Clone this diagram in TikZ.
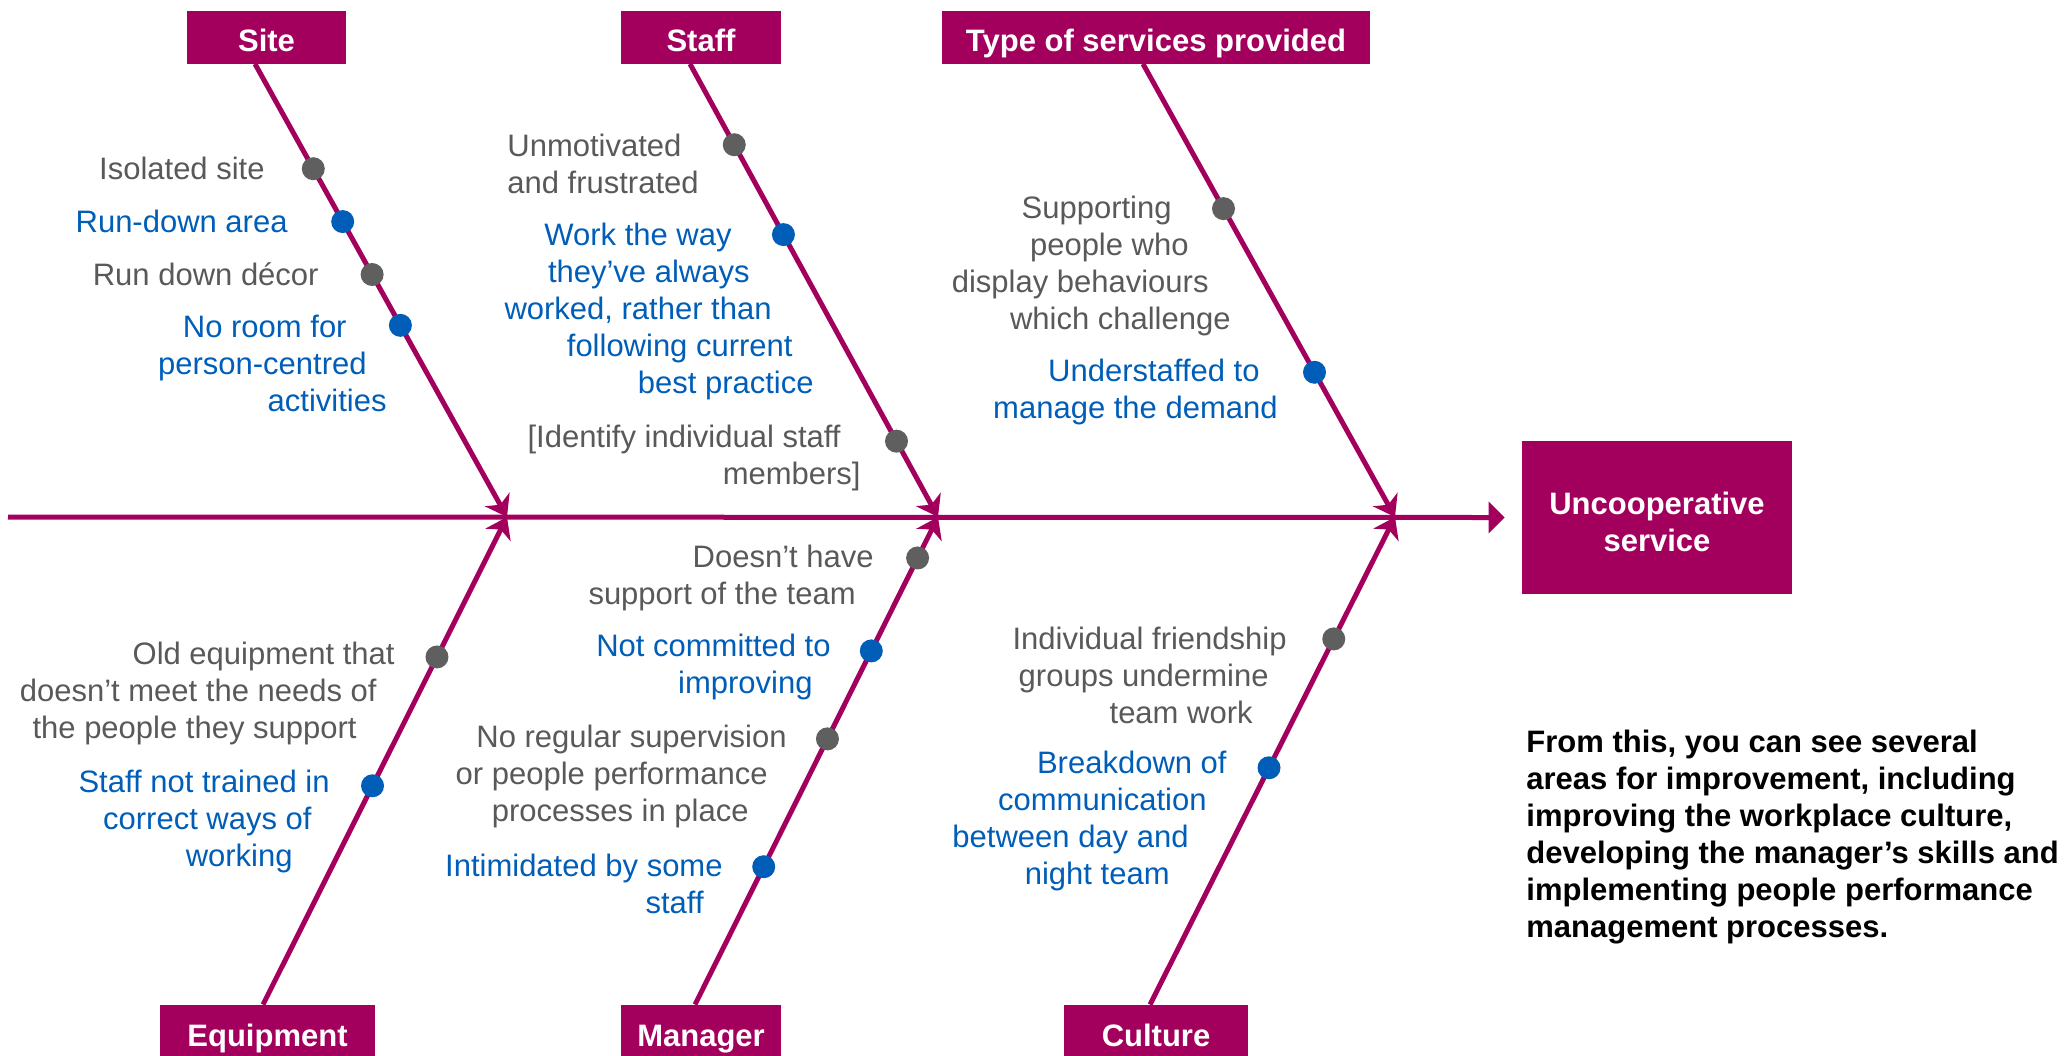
\documentclass[tikz,border=0pt]{standalone}
\usepackage{fontspec}
\setmainfont{Liberation Sans}
\usetikzlibrary{arrows.meta}
\definecolor{fbmag}{HTML}{A3005E}
\definecolor{fbgrey}{HTML}{595959}
\definecolor{fbblue}{HTML}{005EB8}
\definecolor{fbdot}{HTML}{5F5F5F}
\newcommand{\pad}[1]{\rule{#1}{0pt}}
\tikzset{
  txt/.style={font=\fontsize{15.5pt}{18.5pt}\selectfont, inner sep=0pt},
  greytxt/.style={txt, text=fbgrey, anchor=east, align=right},
  bluetxt/.style={txt, text=fbblue, anchor=east, align=right},
  catbox/.style={fill=fbmag, text=white, font=\bfseries\fontsize{15.5pt}{18.5pt}\selectfont,
    minimum height=26.5pt, inner sep=0pt, text height=14.5pt, text depth=0pt},
  effectbox/.style={fill=fbmag, text=white, font=\bfseries\fontsize{15.5pt}{18.5pt}\selectfont,
    minimum width=135pt, minimum height=76.5pt, inner sep=0pt, align=center},
  bone/.style={fbmag, line width=2.5pt, -{Stealth[length=10pt,width=14pt,inset=3pt]}},
  spine/.style={fbmag, line width=2.5pt, -{Triangle[length=8pt,width=15.5pt]}},
  gdot/.style={circle, fill=fbdot, minimum size=11.5pt, inner sep=0pt},
  bdot/.style={circle, fill=fbblue, minimum size=11.5pt, inner sep=0pt},
  note/.style={font=\bfseries\fontsize{15.5pt}{18.5pt}\selectfont, text=black, inner sep=0pt,
    anchor=north west, align=left}
}
\begin{document}
\begin{tikzpicture}[x=0.5pt,y=-0.5pt]
\useasboundingbox (0,0) rectangle (2064,1055);
\clip (0,0) rectangle (2064,1055);

% category boxes
\node[catbox, minimum width=79.5pt] (sitebox) at (266.5,37) {Site};
\node[catbox, minimum width=80pt] (staffbox) at (701,37) {Staff};
\node[catbox, minimum width=214pt] (typebox) at (1156,37) {Type of services provided};
\node[catbox, minimum width=107.5pt] (equipbox) at (267.5,1031.5) {Equipment};
\node[catbox, minimum width=80pt] (mgrbox) at (701,1031.5) {Manager};
\node[catbox, minimum width=92pt] (cultbox) at (1156,1031.5) {Culture};
\node[effectbox] (effect) at (1657,517.5) {\rule{0pt}{15.2pt}Uncooperative\\service};

% junctions
\coordinate (j1) at (507,517);
\coordinate (j2) at (938,517);
\coordinate (j3) at (1395,517);
\coordinate (axstart) at (8,517);

% spine
\draw[spine] (axstart) -- ([xshift=-8.5pt]effect.west);

% upper bones
\draw[bone] ([xshift=-5.75pt]sitebox.south) -- (j1)
  node[gdot, pos=0.2313] (s1) {}
  node[bdot, pos=0.348] (s2) {}
  node[gdot, pos=0.4648] (s3) {}
  node[bdot, pos=0.577] (s4) {};
\draw[bone] ([xshift=-5.5pt]staffbox.south) -- (j2)
  node[gdot, pos=0.1784] (t1) {}
  node[bdot, pos=0.3767] (t2) {}
  node[gdot, pos=0.8326] (t3) {};
\draw[bone] ([xshift=-6.5pt]typebox.south) -- (j3)
  node[gdot, pos=0.3194] (v1) {}
  node[bdot, pos=0.6806] (v2) {};

% lower bones
\draw[bone] ([xshift=-2.25pt]equipbox.north) -- (j1)
  node[gdot, pos=0.713] (e1) {}
  node[bdot, pos=0.4488] (e2) {};
\draw[bone] ([xshift=-3pt]mgrbox.north) -- (j2)
  node[gdot, pos=0.916] (m1) {}
  node[bdot, pos=0.7254] (m2) {}
  node[gdot, pos=0.545] (m3) {}
  node[bdot, pos=0.2828] (m4) {};
\draw[bone] ([xshift=-3pt]cultbox.north) -- (j3)
  node[gdot, pos=0.75] (c1) {}
  node[bdot, pos=0.4857] (c2) {};

% Site labels
\node[greytxt] (ls1) at (265,168) {Isolated site};
\node[bluetxt] (ls2) at (288,221) {Run-down area};
\node[greytxt] (ls3) at (319,274) {Run down décor};
\node[bluetxt] (ls4) at (387,363) {No room for\pad{20pt}\\person-centred\pad{10pt}\\activities};

% Staff labels
\node[txt, text=fbgrey, anchor=west, align=left] (lt1) at (507,164) {Unmotivated\\and frustrated};
\node[bluetxt] (lt2) at (814,311) {Work the way\pad{41pt}\\they’ve always\pad{32pt}\\worked, rather than\pad{21pt}\\following current\pad{10.5pt}\\best practice};
\node[greytxt] (lt3) at (861,457.5) {[Identify individual staff\pad{10pt}\\members]};

% Type labels
\node[greytxt] (lv1) at (1231,266) {Supporting\pad{29.5pt}\\people who\pad{21pt}\\display behaviours\pad{11pt}\\which challenge};
\node[bluetxt] (lv2) at (1278,392) {Understaffed to\pad{9pt}\\manage the demand};

% Equipment labels
\node[greytxt] (le1) at (395,693) {Old equipment that\\doesn’t meet the needs of\pad{9pt}\\the people they support\pad{19pt}};
\node[bluetxt] (le2) at (330,821) {Staff not trained in\\correct ways of\pad{9pt}\\working\pad{18.5pt}};

% Manager labels
\node[greytxt] (lm1) at (874,577.5) {Doesn’t have\\support of the team\pad{9pt}};
\node[bluetxt] (lm2) at (831,666.5) {Not committed to\\improving\pad{9pt}};
\node[greytxt] (lm3) at (787,776) {No regular supervision\\or people performance\pad{9.5pt}\\processes in place\pad{19pt}};
\node[bluetxt] (lm4) at (723,883.5) {Intimidated by some\\staff\pad{9.5pt}};

% Culture labels
\node[greytxt] (lc1) at (1287,675) {Individual friendship\\groups undermine\pad{9pt}\\team work\pad{17pt}};
\node[bluetxt] (lc2) at (1227,820.75) {Breakdown of\\communication\pad{10pt}\\between day and\pad{19pt}\\night team\pad{28.5pt}};

% conclusion
\node[note] (concl) at (1526,730) {From this, you can see several\\areas for improvement, including\\improving the workplace culture,\\developing the manager’s skills and\\implementing people performance\\management processes.};
\end{tikzpicture}
\end{document}
